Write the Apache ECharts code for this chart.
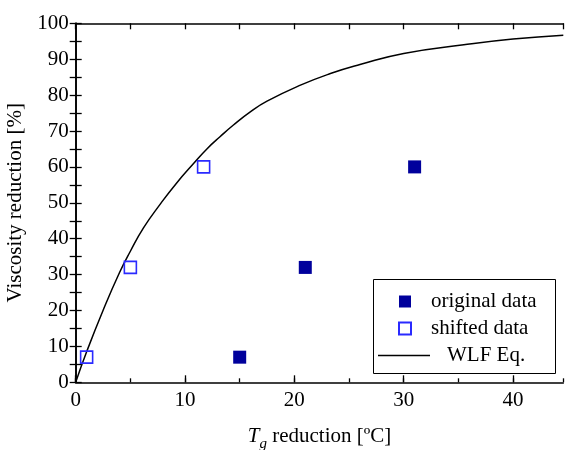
<!DOCTYPE html>
<html>
<head>
<meta charset="utf-8">
<script src="https://cdn.jsdelivr.net/npm/echarts@6/dist/echarts.min.js"></script>
<style>html,body{margin:0;padding:0;background:#fff}#c{width:565px;height:450px}</style>
</head>
<body>
<div id="c"></div>
<script>
// ---- data ----
const origX = [15, 21, 31];
const origY = [7, 32, 60];
const shiftX = [1, 5, 11.7];
const shiftY = [7, 32, 60];
const wlfX = [0, 1, 2.5, 4, 5, 6.2, 7.7, 9.2, 10.8, 12, 13.2, 14.4, 16, 17.5, 20.5, 23.3, 26, 30, 35.5, 40, 44.6];
const wlfY = [0, 8.5, 20, 30.5, 36.5, 43, 49.5, 55.4, 61, 65, 68.4, 71.6, 75.4, 78.3, 82.7, 86, 88.5, 91.6, 94, 95.6, 96.7];
const xTicks = [0, 10, 20, 30, 40];
const yTicks = [0, 10, 20, 30, 40, 50, 60, 70, 80, 90, 100];

const FONT = 'Liberation Serif';
const XMIN = 0, XMAX = 44.6, YMIN = 0, YMAX = 100;

const zip = (a, b) => a.map((v, i) => [v, b[i]]);
const axisLine = { show: true, lineStyle: { color: '#000', width: 1.6 } };
const lbl = (ticks) => (v) => ticks.indexOf(Math.round(v * 100) / 100) >= 0 ? String(v) : '';

const chart = echarts.init(document.getElementById('c'), null, { renderer: 'canvas' });
chart.setOption({
  animation: false,
  backgroundColor: '#fff',
  grid: { left: 75.7, top: 23.3, right: 1.7, bottom: 67.7, containLabel: false, outerBoundsMode: 'none' },
  xAxis: [
    { type: 'value', position: 'bottom', min: XMIN, max: XMAX, interval: 10,
      axisLine, splitLine: { show: false },
      axisTick: { show: true, inside: true, length: 7, lineStyle: { color: '#000', width: 1.3 } },
      axisLabel: { show: true, margin: 8, color: '#000', fontFamily: FONT, fontSize: 21, formatter: lbl(xTicks), showMaxLabel: false },
      name: '{i|T}{s|g}{n| reduction [ºC]}', nameLocation: 'middle', nameGap: 40,
      nameTextStyle: { color: '#000', fontFamily: FONT, fontSize: 21,
        rich: {
          i: { fontFamily: FONT, fontSize: 21, fontStyle: 'italic', color: '#000' },
          s: { fontFamily: FONT, fontSize: 15, fontStyle: 'italic', color: '#000', padding: [14, 0, 0, 0] },
          n: { fontFamily: FONT, fontSize: 21, color: '#000' }
        } } },
    { type: 'value', position: 'bottom', min: XMIN, max: XMAX, interval: 5,
      axisLine: { show: false }, splitLine: { show: false },
      axisTick: { show: true, inside: true, length: 4, lineStyle: { color: '#000', width: 1.3 } },
      axisLabel: { show: false } },
    { type: 'value', position: 'top', min: XMIN, max: XMAX, interval: 5,
      axisLine, splitLine: { show: false },
      axisTick: { show: true, inside: true, length: 6, lineStyle: { color: '#000', width: 1.3 } },
      axisLabel: { show: false } }
  ],
  yAxis: [
    { type: 'value', position: 'left', min: YMIN, max: YMAX, interval: 5,
      axisLine, splitLine: { show: false },
      axisTick: { show: true, inside: true, length: 6, lineStyle: { color: '#000', width: 1.3 } },
      axisLabel: { show: true, margin: 7, color: '#000', fontFamily: FONT, fontSize: 21, formatter: lbl(yTicks) },
      name: 'Viscosity reduction [%]', nameLocation: 'middle', nameGap: 37,
      nameTextStyle: { color: '#000', fontFamily: FONT, fontSize: 21 } },
    { type: 'value', position: 'right', min: YMIN, max: YMAX, interval: 5,
      axisLine, splitLine: { show: false },
      axisTick: { show: true, inside: true, length: 6, lineStyle: { color: '#000', width: 1.3 } },
      axisLabel: { show: false } }
  ],
  legend: [
    { show: true, orient: 'vertical', left: 393, top: 286, itemWidth: 12, itemHeight: 12, itemGap: 6,
      selectedMode: false, data: ['original data', 'shifted data'],
      textStyle: { color: '#000', fontFamily: FONT, fontSize: 21, padding: [0, 0, 0, 15] } },
    { show: true, orient: 'vertical', left: 373, top: 340, itemWidth: 52, itemHeight: 14, itemGap: 0,
      selectedMode: false,
      data: [{ name: 'WLF Eq.', icon: 'path://M0,6.3 H52 V7.7 H0 Z', itemStyle: { color: '#000' } }],
      textStyle: { color: '#000', fontFamily: FONT, fontSize: 21, padding: [0, 0, 0, 12] } }
  ],
  graphic: [
    { type: 'rect', left: 373, top: 279, z: 0, silent: true,
      shape: { width: 182, height: 94 },
      style: { fill: '#fff', stroke: '#000', lineWidth: 1 } }
  ],
  series: [
    { name: 'WLF Eq.', type: 'line', data: zip(wlfX, wlfY), smooth: true,
      showSymbol: false, symbol: 'none', lineStyle: { color: '#000', width: 1.5 }, itemStyle: { color: '#000' }, z: 2 },
    { name: 'original data', type: 'scatter', data: zip(origX, origY), symbol: 'rect', symbolSize: 13,
      itemStyle: { color: '#00009c', borderColor: '#00009c', borderWidth: 0, opacity: 1 }, z: 3 },
    { name: 'shifted data', type: 'scatter', data: zip(shiftX, shiftY), symbol: 'rect', symbolSize: 12,
      itemStyle: { color: 'rgba(0,0,0,0)', borderColor: '#2a2aff', borderWidth: 1.6, opacity: 1 }, z: 3 }
  ]
});
</script>
</body>
</html>
